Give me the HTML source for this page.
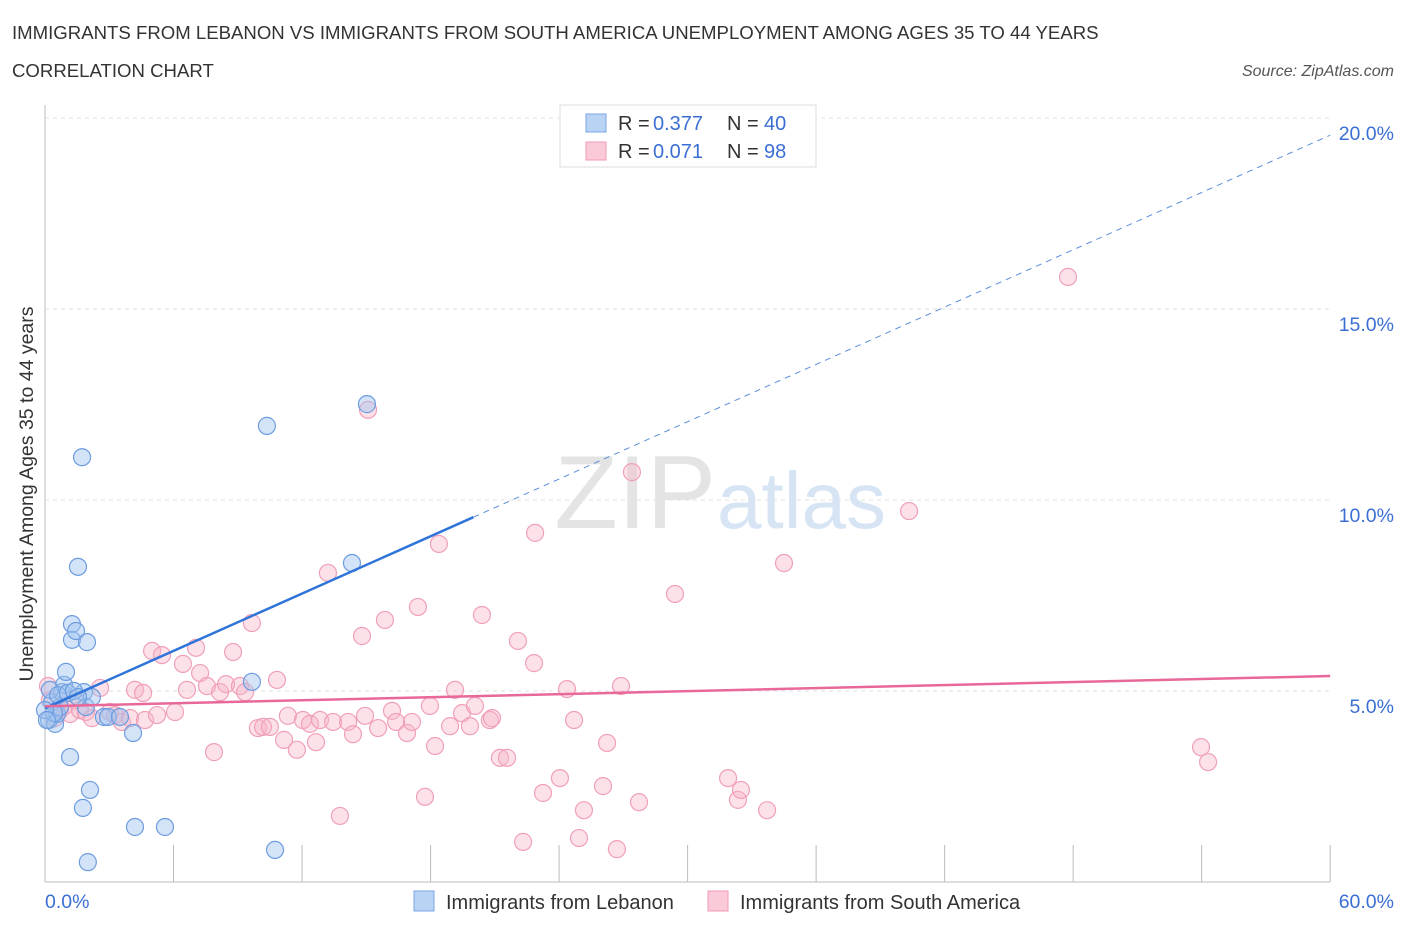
<!DOCTYPE html>
<html><head><meta charset="utf-8"><style>
body{margin:0;background:#fff;font-family:"Liberation Sans",sans-serif;}
svg text{font-family:"Liberation Sans",sans-serif;}
</style></head><body>
<svg width="1406" height="930">
<text x="12" y="39" font-size="18.6" fill="#333">IMMIGRANTS FROM LEBANON VS IMMIGRANTS FROM SOUTH AMERICA UNEMPLOYMENT AMONG AGES 35 TO 44 YEARS</text>
<text x="12" y="77" font-size="18.6" fill="#333">CORRELATION CHART</text>
<text x="1394" y="76" font-size="16" fill="#555" font-style="italic" text-anchor="end">Source: ZipAtlas.com</text>
<g id="grid"></g>
<text x="716" y="528" font-size="104" fill="#e4e4e4" font-family="Liberation Serif" text-anchor="end">ZIP</text>
<text x="717" y="528" font-size="80" fill="#d6e4f4">atlas</text>
<g id="pts"></g><g id="lines"></g>
<text x="33" y="494" font-size="19.5" fill="#333" transform="rotate(-90 33 494)" text-anchor="middle">Unemployment Among Ages 35 to 44 years</text>
<text x="45" y="908" font-size="19.5" fill="#3b6fd4">0.0%</text>
<text x="1394" y="908" font-size="19.5" fill="#3b6fd4" text-anchor="end">60.0%</text>
<g>
<rect x="560" y="105" width="256" height="62" fill="#fff" stroke="#ddd"/>
<rect x="586" y="114" width="20" height="18" fill="#b9d3f5" stroke="#7aa6e6"/>
<rect x="586" y="142" width="20" height="18" fill="#fbcad8" stroke="#f09ab4"/>
<text x="618" y="130" font-size="20" fill="#333">R =</text><text x="653" y="130" font-size="20" fill="#3b6fd4">0.377</text>
<text x="727" y="130" font-size="20" fill="#333">N =</text><text x="764" y="130" font-size="20" fill="#3b6fd4">40</text>
<text x="618" y="158" font-size="20" fill="#333">R =</text><text x="653" y="158" font-size="20" fill="#3b6fd4">0.071</text>
<text x="727" y="158" font-size="20" fill="#333">N =</text><text x="764" y="158" font-size="20" fill="#3b6fd4">98</text>
</g>
<g>
<rect x="414" y="891" width="20" height="20" fill="#b9d3f5" stroke="#7aa6e6"/>
<text x="446" y="909" font-size="20" fill="#333">Immigrants from Lebanon</text>
<rect x="708" y="891" width="20" height="20" fill="#fbcad8" stroke="#f09ab4"/>
<text x="740" y="909" font-size="20" fill="#333">Immigrants from South America</text>
</g>
</svg>
<script>
const yTicks=[5,10,15,20];
const xTicks=[0,6,12,18,24,30,36,42,48,54,60];
const lebX=[0.19,0.33,0.47,0.56,0.7,0.79,0.89,0.98,1.17,1.26,1.26,1.45,1.54,1.73,1.77,1.82,1.91,1.96,2.0,2.1,2.19,2.75,2.94,3.5,4.11,4.2,5.6,9.66,10.36,10.74,14.33,15.03,0.23,0.42,0.61,1.07,1.35,1.54,0.0,0.09];
const lebY=[4.24,4.71,4.14,4.4,4.58,4.97,5.16,5.5,3.27,6.75,6.34,6.57,8.25,11.12,1.94,4.97,4.58,6.28,0.52,2.41,4.84,4.32,4.32,4.32,3.9,1.44,1.44,5.24,11.94,0.84,8.35,12.51,5.03,4.42,4.89,4.95,5.0,4.84,4.5,4.24];
const saX=[0.14,0.23,0.47,0.70,0.93,1.17,1.40,1.63,1.91,2.19,2.57,3.03,3.27,3.59,3.97,4.20,4.58,4.67,5.00,5.23,5.46,6.07,6.44,6.63,7.05,7.24,7.56,7.89,8.17,8.45,8.78,9.10,9.34,9.66,9.94,10.18,10.50,10.83,11.16,11.34,11.76,12.04,12.37,12.65,12.84,13.21,13.45,13.77,14.15,14.38,14.80,14.94,15.08,15.55,15.87,16.20,16.39,16.90,17.13,17.41,17.74,17.97,18.21,18.39,18.91,19.14,19.47,19.84,20.07,20.40,20.77,20.87,21.24,21.57,22.08,22.32,22.83,22.88,23.25,24.04,24.37,24.70,24.93,25.16,26.05,26.24,26.70,26.89,27.40,27.73,29.41,31.89,32.35,32.49,33.71,34.50,40.34,47.76,53.97,54.30];
const saY=[5.13,4.76,4.29,4.50,4.61,4.40,4.76,4.50,4.45,4.29,5.08,4.45,4.37,4.19,4.29,5.03,4.95,4.24,6.05,4.37,5.94,4.45,5.71,5.03,6.13,5.47,5.13,3.40,4.97,5.18,6.02,5.13,4.97,6.78,4.03,4.06,4.06,5.29,3.72,4.35,3.46,4.24,4.14,3.66,4.24,8.09,4.19,1.73,4.19,3.87,6.44,4.35,12.36,4.03,6.86,4.48,4.19,3.90,4.19,7.20,2.23,4.61,3.56,8.85,4.08,5.03,4.42,4.08,4.61,6.99,4.24,4.29,3.25,3.25,6.31,1.05,5.73,9.14,2.33,2.72,5.05,4.24,1.15,1.88,2.51,3.64,0.86,5.13,10.73,2.09,7.54,2.72,2.15,2.41,1.88,8.35,9.71,15.84,3.53,3.14];
const lebFit=[4.55,0.25];
const saFit=[4.6,0.0132];
const X=v=>45+v*21.42, Y=v=>882-v*38.2;
const NS="http://www.w3.org/2000/svg";
function mk(t,a,p){const e=document.createElementNS(NS,t);for(const k in a)e.setAttribute(k,a[k]);p.appendChild(e);return e;}
const g=document.getElementById('grid');
mk('line',{x1:45,y1:105,x2:45,y2:882,stroke:'#bbb'},g);
mk('line',{x1:45,y1:882,x2:1330,y2:882,stroke:'#bbb'},g);
yTicks.forEach(t=>{
 const l=mk('line',{x1:45,y1:Y(t),x2:1330,y2:Y(t),stroke:'#e2e2e2','stroke-dasharray':'4 4'},g);
 
 
 const tx=mk('text',{x:1394,y:Y(t)+22,'font-size':19.5,fill:'#3b6fd4','text-anchor':'end'},g);
 tx.textContent=t.toFixed(1)+'%';
 
 
});
xTicks.forEach(t=>{
 const l=mk('line',{x1:X(t),y1:845,x2:X(t),y2:882,stroke:'#bbb'},g);
 
 
});
const p=document.getElementById('pts');
saX.forEach((x,i)=>{const c=mk('circle',{cx:X(x),cy:Y(saY[i]),r:8.5,fill:'rgba(248,180,200,0.4)',stroke:'#f0a0b8','stroke-width':1.2},p);
 
 });
lebX.forEach((x,i)=>{const c=mk('circle',{cx:X(x),cy:Y(lebY[i]),r:8.5,fill:'rgba(160,195,240,0.45)',stroke:'#6d9de0','stroke-width':1.2},p);
 
 });
const L=document.getElementById('lines');
const f=(c,x)=>c[0]+c[1]*x;
let a=mk('line',{x1:X(0),y1:Y(f(lebFit,0)),x2:X(20),y2:Y(f(lebFit,20)),stroke:'#2f74d8','stroke-width':2.5},L);


a=mk('line',{x1:X(20),y1:Y(f(lebFit,20)),x2:X(60),y2:Y(f(lebFit,60)),stroke:'#5a8fdc','stroke-width':1,'stroke-dasharray':'6 5'},L);


a=mk('line',{x1:X(0),y1:Y(f(saFit,0)),x2:X(60),y2:Y(f(saFit,60)),stroke:'#e8689a','stroke-width':2.5},L);


</script>
</body></html>
